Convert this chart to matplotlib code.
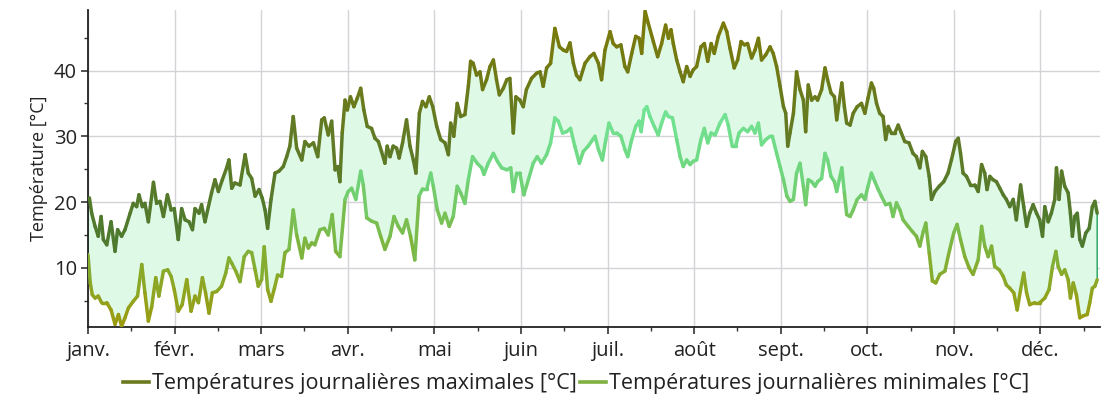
import matplotlib

matplotlib.use("Agg")
import matplotlib.pyplot as plt
import numpy as np
from matplotlib.collections import LineCollection
from matplotlib.colors import LinearSegmentedColormap, Normalize
from matplotlib.lines import Line2D
from matplotlib.ticker import FixedLocator

plt.rcParams["font.family"] = ["Open Sans", "DejaVu Sans"]

months = ["janv.", "févr.", "mars", "avr.", "mai", "juin",
          "juil.", "août", "sept.", "oct.", "nov.", "déc."]

# day of year and daily maximum temperature [°C]
max_days = [0, 0.5, 1.3, 2.5, 3.6, 4.6, 5.4, 6.6, 8.1, 9.5, 10.4, 11.8, 13, 14.8, 15.9, 17.1,
            17.9, 19.1, 20, 21.2, 23, 24.1, 25.3, 26.5, 27.9, 29.2, 30.3, 31.7, 32.9, 34.1,
            35.5, 36.7, 37.6, 39, 39.9, 41.1, 42.3, 43.4, 44.6, 45.8, 47.2, 48.7, 49.5, 50.5,
            51.6, 53.4, 55.2, 56.3, 57.5, 58.7, 60.1, 61.2, 62.2, 63.1, 64.3, 65.7, 67.1,
            68.6, 69.8, 70.9, 72.1, 73.3, 75.1, 76.2, 77.6, 79.2, 80.7, 82.1, 83, 84.4, 85.6,
            86.8, 87.7, 88.5, 89.3, 90.3, 91.1, 92.2, 93.4, 94.6, 95.8, 96.9, 98.1, 99.6,
            100.8, 102, 103.1, 104.3, 105.1, 106.1, 107.2, 108.4, 109.3, 110.5, 111.9, 113.1,
            114.3, 115.2, 116.4, 117.5, 118.7, 119.9, 121.1, 122.5, 123.9, 125.4, 126.6,
            127.4, 128.5, 129.7, 130.9, 132.4, 133.6, 134.4, 135.3, 136.5, 137.7, 138.6, 140,
            141.2, 142.4, 143.5, 144.5, 145.9, 147.1, 148.2, 149.4, 150.3, 151.7, 152.9, 154,
            155.8, 157.6, 158.8, 159.9, 161.1, 162.5, 164, 165.6, 167, 168.1, 169.3, 170.5,
            171.6, 172.8, 174.6, 176.3, 177.7, 179.3, 180.4, 181.6, 183.4, 184.5, 185.7,
            187.2, 188.6, 189.6, 191, 192.4, 193.6, 194.5, 195.7, 196.8, 198.6, 200.1, 201.5,
            202.9, 203.9, 204.8, 205.6, 206.8, 208, 209.1, 210.3, 211.5, 212.6, 213.8, 215.3,
            216.5, 217.7, 218.9, 220, 221.4, 223.2, 224.4, 225.5, 227, 228.2, 229.4, 230.6,
            231.7, 233.1, 234.3, 235.5, 236.6, 238.1, 239.6, 240.7, 241.9, 243.1, 244.3,
            245.1, 245.8, 246.6, 247.8, 248.9, 250.1, 251.3, 252.1, 253, 254.2, 255.4, 256.3,
            257.7, 258.9, 259.8, 261, 262.2, 263, 264.8, 265.7, 266.5, 267.7, 268.8, 270.2,
            271.7, 272.9, 274, 275.2, 276, 277, 278.1, 279.3, 280.2, 281.1, 282.2, 283.4,
            284.6, 285.7, 286.9, 288.4, 289.8, 291, 292.2, 293.1, 294.3, 295.5, 296.3, 297.5,
            299, 300.6, 302.1, 303.3, 304.8, 305.7, 306.5, 307.4, 308.6, 310, 311.5, 312.7,
            313.9, 315, 315.8, 316.8, 317.9, 319.1, 320.3, 321.5, 322.6, 323.8, 325, 326.1,
            327.6, 328.7, 329.7, 330.8, 332, 333.2, 334.3, 335.3, 336.1, 337.3, 338.4, 339.6,
            340.2, 341.1, 342, 343.1, 344.3, 345.1, 345.8, 346.6, 347.5, 348.4, 349.3, 350.5,
            351.7, 352.8, 353.7, 354.5]
t_max = [20.4, 20.6, 18.3, 16.3, 14.8, 17.8, 14.3, 13.5, 17, 12.5, 15.8, 14.8, 15.8, 18.3,
         19.8, 19.3, 21.1, 19.3, 19.8, 17, 23, 19.8, 20.1, 17.8, 21.1, 18.8, 19, 14.3, 19,
         17.3, 17, 15.8, 19, 18.3, 19.6, 17, 19.3, 21.4, 23.4, 21.6, 23.4, 25.2, 26.4, 22.1,
         22.9, 22.6, 27.2, 24.4, 23.6, 20.9, 21.9, 20.6, 18.8, 16, 20.4, 24.4, 24.7, 25.4,
         26.9, 28.5, 33, 28.2, 26.4, 29.2, 28.5, 29, 26.9, 32.5, 32.8, 30.2, 32.3, 24.9, 25.4,
         23.1, 30.5, 35.5, 34, 36, 34.5, 35.8, 37.3, 34, 31.5, 31.2, 29.7, 29.2, 27.7, 25.9,
         28.5, 26.9, 28.5, 28.2, 26.7, 29, 32.5, 28.5, 26.4, 24.4, 33.5, 35.3, 34.5, 36, 34.5,
         31.5, 29.5, 29, 27.2, 32, 30, 35, 33, 33.3, 37.6, 41.4, 41.1, 39.3, 39.8, 37.1, 38.6,
         40.6, 41.6, 38.6, 36.3, 37.3, 38.6, 38.8, 30.5, 36, 35.5, 34.5, 37.1, 38.8, 39.6,
         39.8, 37.6, 40.4, 41.1, 46.4, 43.6, 43.1, 42.9, 44.2, 41.1, 39.3, 38.6, 41.1, 42.1,
         42.6, 41.1, 38.6, 43.1, 45.9, 44.1, 43.6, 43.9, 40.6, 39.8, 42.6, 45.2, 44.9, 42.6,
         49, 47.2, 44.4, 42.1, 44.1, 46.9, 44.9, 46.2, 44.1, 41.6, 39.8, 38.3, 40.6, 39.1,
         40.1, 40.6, 43.6, 44.1, 41.4, 44.1, 42.6, 45.2, 47.2, 45.9, 43.4, 40.4, 41.6, 44.4,
         43.9, 44.1, 41.9, 43.1, 44.9, 41.6, 42.4, 43.6, 42.6, 40.6, 37.6, 34.5, 33.5, 28.5,
         30.5, 33.5, 39.8, 37.1, 35.5, 30.7, 37.8, 35.5, 36, 35.5, 37.1, 40.4, 38.6, 36.6, 36,
         32.5, 38.1, 34.5, 32, 31.7, 33.5, 34.5, 35, 33.5, 35.8, 38.1, 37.3, 35, 33.5, 33,
         29.5, 31.5, 30.5, 30.5, 31.7, 30.5, 29.2, 29, 27.4, 26.9, 25.2, 27.7, 26.9, 23.9,
         20.4, 21.6, 22.4, 23.1, 24.4, 26.4, 29.2, 29.7, 27.4, 24.4, 23.9, 22.6, 22.6, 21.6,
         25.7, 24.4, 21.9, 23.9, 23.4, 23.1, 22.1, 21.1, 20.4, 19.3, 20.4, 17.3, 22.6, 19.3,
         16.3, 18.3, 19.6, 18.3, 17.3, 14.8, 19.3, 17, 18.3, 20.4, 25.2, 20.4, 24.7, 22.4,
         21.4, 18.3, 14.8, 17.8, 18.3, 14.3, 13.3, 15.3, 16, 19.3, 20.1, 18.3]

# day of year and daily minimum temperature [°C]
min_days = [0, 0.8, 1.5, 2.5, 3.6, 4.8, 6.6, 8.1, 9.5, 10.7, 11.8, 13, 14.2, 15.9, 17.4,
            18.9, 20, 21.2, 22.4, 23.8, 24.9, 26.5, 28, 29.2, 30.3, 31.7, 33.1, 34.7, 36.2,
            37.6, 38.8, 40.2, 41.3, 42.5, 43.7, 45.2, 46.9, 48.4, 49.5, 50.5, 51.9, 53.4,
            54.9, 56.3, 57.5, 58.7, 59.8, 61, 61.9, 63.1, 64.3, 65.5, 66.6, 68, 69.2, 70.6,
            72.1, 73.3, 75.1, 76.2, 77.4, 78.6, 79.7, 81.5, 83, 84.4, 85.8, 87, 88.5, 90.3,
            91.4, 92.6, 94.1, 95.8, 96.7, 97.9, 99.6, 101.4, 102.8, 104.3, 106.1, 107.5, 109,
            110.5, 111.9, 113.3, 114.8, 116.3, 117.5, 119, 120.4, 121.3, 122.7, 124.2, 125.4,
            126.9, 128.3, 129.7, 130.9, 132.4, 133.6, 135.1, 136.7, 138.3, 139.1, 140.6,
            142.4, 143.8, 145.3, 147.1, 148.5, 149.4, 150.6, 151.7, 153.1, 154.7, 156.4,
            157.8, 159.3, 161.1, 162.5, 164, 165.2, 166.7, 168.1, 169.5, 171, 172.6, 174,
            175.7, 177.3, 178.1, 179.3, 180.7, 181.9, 183, 184.5, 185.7, 187.2, 188.6, 189.6,
            191, 192.4, 193.6, 194.3, 195.4, 196.3, 197.4, 198.9, 200.3, 201.5, 202.9, 203.9,
            205.3, 206.8, 208, 209.1, 210.3, 211.5, 212.6, 213.8, 215.3, 216.5, 217.7, 218.9,
            220.3, 222, 223.8, 224.9, 226.3, 227.5, 228.7, 230.2, 231.7, 233.1, 234.3, 235.5,
            236.6, 238.1, 239.6, 240.4, 241.9, 243.1, 244.3, 245.5, 246.6, 247.8, 248.9, 250.1,
            251.3, 252.1, 253, 254.2, 255.4, 256.3, 257.7, 258.9, 259.8, 261, 262.2, 263,
            264.8, 265.7, 266.5, 267.7, 268.8, 270.2, 271.7, 272.9, 274, 275.2, 276.4, 277.6,
            278.7, 280.2, 281.7, 282.8, 284, 285.2, 286.3, 288.1, 289.6, 291, 292.2, 293.4,
            294.3, 295.5, 296.6, 297.8, 299.2, 301, 302.7, 304.1, 305.3, 306.5, 308, 309.5,
            310.9, 312.7, 313.9, 315, 316.2, 317.4, 318.5, 320.1, 321.5, 322.6, 323.8, 325.2,
            326.4, 327.6, 328.7, 329.7, 330.8, 332.6, 334.3, 336.1, 337.6, 338.8, 340, 340.8,
            342, 343.1, 344.3, 345.1, 346.1, 347.2, 348.4, 349.6, 351, 351.9, 352.8, 353.7,
            354.5]
t_min = [12, 7.7, 5.9, 5.4, 5.7, 4.7, 4.7, 3.6, 1.4, 2.9, 1.1, 2.4, 3.9, 4.9, 5.7, 10.5, 6.2,
         1.9, 4.1, 8.5, 5.7, 9.5, 9.7, 8.7, 6.7, 3.4, 4.4, 8.2, 3.4, 5.7, 4.7, 8.5, 6.2, 3.1,
         6.2, 6.4, 7.2, 9.2, 11.5, 10.7, 9.5, 7.9, 11.7, 12.5, 12.3, 9.7, 7.2, 8.2, 13.2, 6.7,
         4.9, 6.9, 8.9, 8.7, 12.3, 12.8, 18.8, 15, 11.5, 14.5, 13, 13.8, 13.5, 15.8, 16, 15,
         18.1, 12.5, 11.7, 20.4, 21.6, 22.1, 20.4, 24.7, 22.6, 17.6, 17.1, 16.8, 14.8, 12.8,
         14.8, 17.8, 16.3, 15.3, 17.3, 14.8, 11.2, 20.9, 22, 22, 24.4, 22.4, 18.8, 16.8, 18.3,
         16.3, 17.8, 22.4, 21.4, 19.8, 23.4, 26.9, 25.9, 25.2, 24.2, 25.9, 27.4, 26.2, 25.2,
         24.9, 25.2, 21.6, 24.4, 24.4, 21.1, 23.4, 25.9, 26.9, 25.9, 27.2, 29, 32.8, 32.3,
         30.5, 30.7, 31.2, 28.5, 25.9, 27.7, 28.5, 29.5, 30, 28, 26.4, 29.5, 32, 30.5, 30.5,
         30, 28, 26.9, 29.5, 31.5, 32.3, 30.7, 34, 34.5, 33, 31.5, 30.2, 32, 33.7, 33, 32.8,
         29.5, 26.9, 25.4, 26.4, 25.7, 26.2, 26.4, 29.5, 31.2, 29, 30.5, 30.2, 32, 33.3, 31.7,
         28.5, 28.5, 30.5, 31.2, 30.7, 31.5, 30.5, 32, 28.7, 29.5, 30, 30, 27.4, 25.4, 23.4,
         20.9, 20.1, 20.4, 24.4, 25.9, 22.4, 19.6, 23.4, 23.1, 22.4, 23.1, 23.6, 27.4, 26.4,
         23.9, 23.1, 21.6, 25.2, 21.4, 18.1, 17.8, 18.8, 20.4, 21.1, 20.4, 22.4, 24.4, 23.1,
         21.9, 20.9, 19.6, 19.8, 17.8, 19.9, 18.8, 17.3, 16.3, 15.5, 14.8, 13.3, 15.5, 16.8,
         12.3, 8, 7.7, 9, 9.5, 12.8, 15.3, 16.6, 14.3, 11.7, 10, 9, 11.2, 16.3, 13.3, 11.7,
         13.3, 10.2, 9.7, 8.7, 7.4, 6.9, 6.2, 3.6, 6.7, 9.2, 6.2, 4.4, 4.7, 4.7, 5.4, 6.7,
         10.2, 12.5, 10.2, 9, 9.7, 8.2, 5.4, 7.7, 5.9, 2.4, 2.7, 2.9, 4.7, 6.9, 7.2, 8.2]

fig = plt.figure(figsize=(11.04, 4.12), dpi=100)
ax = fig.add_axes([0.0797, 0.2063, 0.9167, 0.7694])

# band between the two curves
ax.fill(np.r_[max_days, min_days[::-1]], np.r_[t_max, t_min[::-1]],
        facecolor="#dff9e7", edgecolor="#1aa05a", linewidth=1.0, zorder=1)


def colored_line(x, y, cmap, vmin, vmax):
    pts = np.column_stack([x, y]).reshape(-1, 1, 2)
    segs = np.concatenate([pts[:-1], pts[1:]], axis=1)
    vals = (np.asarray(y[:-1]) + np.asarray(y[1:])) / 2
    lc = LineCollection(segs, cmap=cmap, norm=Normalize(vmin, vmax),
                        linewidth=2.5, capstyle="round", joinstyle="round", zorder=3)
    lc.set_array(vals)
    ax.add_collection(lc)


cmap_max = LinearSegmentedColormap.from_list("tmax", ["#4c7a30", "#627a24", "#7c7a08"])
cmap_min = LinearSegmentedColormap.from_list("tmin", ["#9a9c10", "#7fb23a", "#6fd47a", "#72e496"])
colored_line(max_days, t_max, cmap_max, 13, 48)
colored_line(min_days, t_min, cmap_min, 2, 34)

ax.set_xlim(0, 355.5)
ax.set_ylim(1, 49.2)

month_pos = np.arange(12) * 365 / 12
ax.xaxis.set_major_locator(FixedLocator(month_pos))
ax.xaxis.set_minor_locator(FixedLocator(month_pos + 365 / 24))
ax.set_xticklabels(months)
ax.yaxis.set_major_locator(FixedLocator([10, 20, 30, 40]))
ax.yaxis.set_minor_locator(FixedLocator([5, 15, 25, 35, 45]))

ax.tick_params(axis="both", which="major", length=5, width=1.2, color="#333333",
               labelsize=14.5, labelcolor="#222222")
ax.tick_params(axis="x", which="major", pad=5)
ax.tick_params(axis="y", which="major", pad=3)
ax.tick_params(axis="both", which="minor", length=3, width=1.0, color="#333333")

ax.grid(which="major", color="#d4d4d8", linewidth=1.0)
ax.set_axisbelow(True)
for side in ["top", "right"]:
    ax.spines[side].set_visible(False)
for side in ["left", "bottom"]:
    ax.spines[side].set_color("#222222")
    ax.spines[side].set_linewidth(1.3)

ax.set_ylabel("Température [°C]", fontsize=13, color="#222222", labelpad=4)

handles = [Line2D([], [], color="#6a7a1c", linewidth=2.6),
           Line2D([], [], color="#80b040", linewidth=2.6)]
fig.legend(handles, ["Températures journalières maximales [°C]",
                     "Températures journalières minimales [°C]"],
           loc="center", bbox_to_anchor=(0.522, 0.068), ncol=2, frameon=False,
           fontsize=15.5, handlelength=1.2, handletextpad=0.15, columnspacing=0.15,
           labelcolor="#222222")

fig.savefig("out.png", dpi=100)
